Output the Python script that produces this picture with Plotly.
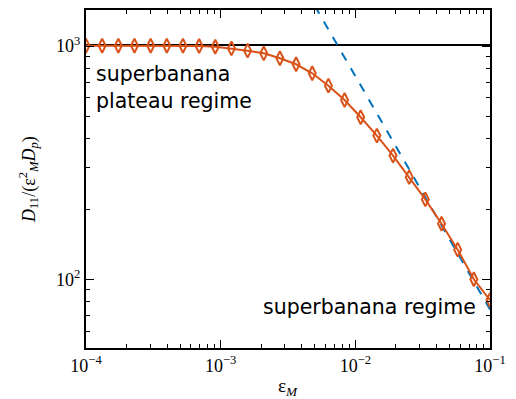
import numpy as np
import plotly.graph_objects as go

# Data
eps = [1.000e-04, 1.318e-04, 1.738e-04, 2.291e-04, 3.020e-04, 3.981e-04,
       5.248e-04, 6.918e-04, 9.120e-04, 1.202e-03, 1.585e-03, 2.089e-03,
       2.754e-03, 3.631e-03, 4.786e-03, 6.310e-03, 8.318e-03, 1.096e-02,
       1.445e-02, 1.905e-02, 2.512e-02, 3.311e-02, 4.365e-02, 5.754e-02,
       7.586e-02, 1.000e-01]
d11 = [1003, 1003, 1003, 1003, 1003, 1003, 1002, 1000, 993, 977, 955, 930,
       886, 835, 764, 676, 587, 495, 413, 339, 274, 220, 173, 134, 100, 81.5]
asym_x = [0.005, 0.1]
asym_y = [1486, 74.3]
plateau_x = [1e-4, 1e-1]
plateau_y = [1010, 1010]

x_tickvals = [1e-4, 1e-3, 1e-2, 1e-1]
x_ticktext = ["10<sup>−4</sup>", "10<sup>−3</sup>", "10<sup>−2</sup>", "10<sup>−1</sup>"]
y_tickvals = [1e2, 1e3]
y_ticktext = ["10<sup>2</sup>", "10<sup>3</sup>"]
x_minor = [m * 10.0 ** e for e in (-4, -3, -2) for m in range(2, 10)]
y_minor = [m * 10.0 ** e for e in (1, 2) for m in range(2, 10)] + [2000]

ORANGE = "#D95319"
BLUE = "#0072BD"
serif = "Liberation Serif"
sans = "DejaVu Sans"

fig = go.Figure()
fig.add_trace(go.Scatter(x=plateau_x, y=plateau_y, mode="lines",
                         line=dict(color="black", width=2), showlegend=False))
fig.add_trace(go.Scatter(x=asym_x, y=asym_y, mode="lines",
                         line=dict(color=BLUE, width=2, dash="dash"), showlegend=False))
fig.add_trace(go.Scatter(x=eps, y=d11, mode="lines+markers",
                         line=dict(color=ORANGE, width=2),
                         marker=dict(symbol="diamond-tall-open", size=10,
                                     color=ORANGE, line=dict(color=ORANGE, width=2)),
                         cliponaxis=True, showlegend=False))

axis_common = dict(showline=True, linecolor="black", linewidth=2, mirror="allticks",
                   ticks="inside", ticklen=8, tickwidth=1, tickcolor="black",
                   showgrid=False, zeroline=False, automargin=False,
                   tickfont=dict(family=serif, size=18, color="black"))

fig.update_xaxes(type="log", range=[-4, -1], tickvals=x_tickvals, ticktext=x_ticktext,
                 minor=dict(tickvals=x_minor, ticks="inside", ticklen=4, tickcolor="black"),
                 **axis_common)
fig.update_yaxes(type="log", range=[1.7055, 3.1543], tickvals=y_tickvals, ticktext=y_ticktext,
                 minor=dict(tickvals=y_minor, ticks="inside", ticklen=4, tickcolor="black"),
                 **axis_common)

# axis titles
fig.add_annotation(xref="paper", yref="paper", x=0.5, y=-0.116, xanchor="center",
                   yanchor="middle", text="ε<sub><i>M</i></sub>", showarrow=False,
                   font=dict(family=serif, size=19, color="black"))
fig.add_annotation(xref="paper", yref="paper", x=-0.1436, y=0.5, xanchor="center", yanchor="middle",
                   textangle=-90,
                   text="<i>D</i><sub>11</sub>/(ε<sup>2</sup><sub><i>M</i></sub><i>D</i><sub><i>p</i></sub>)",
                   showarrow=False, font=dict(family=serif, size=18, color="black"))

fig.add_annotation(xref="paper", yref="paper", x=0.02, y=0.853, xanchor="left", yanchor="top",
                   text="superbanana<br>plateau regime", showarrow=False, align="left",
                   font=dict(family=sans, size=20.5, color="black"))
fig.add_annotation(xref="paper", yref="paper", x=0.97, y=0.121, xanchor="right", yanchor="middle",
                   text="superbanana regime", showarrow=False, align="right",
                   font=dict(family=sans, size=20.5, color="black"))

# the page body adds an 8px offset, so margins are shifted to compensate
fig.update_layout(width=516, height=399, margin=dict(l=78, r=34, t=2, b=59),
                  plot_bgcolor="white", paper_bgcolor="white")
fig.write_html("out.html")
